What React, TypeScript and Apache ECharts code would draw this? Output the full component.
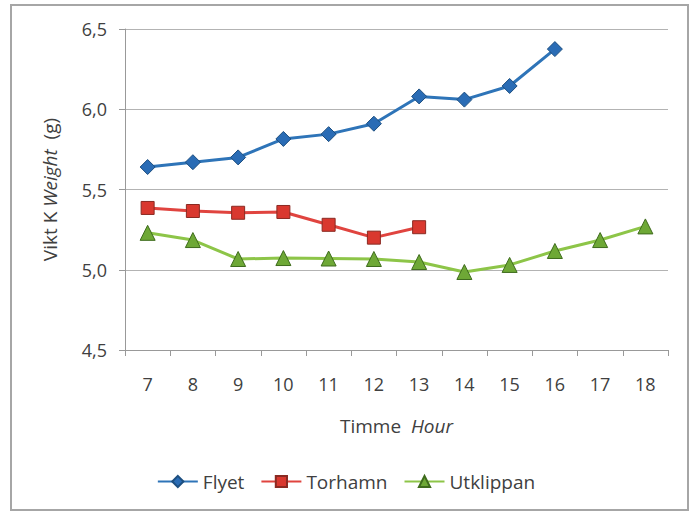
import React, { useEffect, useRef } from "react";
import * as echarts from "echarts";

const hours = ["7", "8", "9", "10", "11", "12", "13", "14", "15", "16", "17", "18"];
const flyet = [5.64, 5.67, 5.70, 5.815, 5.845, 5.91, 6.08, 6.06, 6.145, 6.375, null, null];
const torhamn = [5.385, 5.366, 5.355, 5.36, 5.28, 5.2, 5.265, null, null, null, null, null];
const utklippan = [5.23, 5.185, 5.067, 5.073, 5.07, 5.067, 5.048, 4.986, 5.03, 5.117, 5.185, 5.27];
const yMin = 4.5;
const yMax = 6.5;
const yStep = 0.5;

const FONT = "Open Sans";
const TXT = "#404040";

export default function App() {
  const ref = useRef<HTMLDivElement>(null);
  useEffect(() => {
    if (!ref.current) return;
    const chart = echarts.init(ref.current, null, { renderer: "svg" });
    const mk = (name: string, data: any[], line: string, fill: string, border: string, symbol: string) => ({
      name,
      type: "line",
      data,
      symbol,
      symbolSize: symbol === "rect" ? 13 : 15,
      lineStyle: { color: line, width: 3 },
      itemStyle: { color: fill, borderColor: border, borderWidth: 1 },
      emphasis: { disabled: true },
    });
    chart.setOption({
      animation: false,
      backgroundColor: "#ffffff",
      textStyle: { fontFamily: FONT, color: TXT },
      graphic: [
        {
          type: "rect",
          shape: { x: 11, y: 5, width: 677, height: 505 },
          style: { fill: "none", stroke: "#a6a6a6", lineWidth: 2 },
          silent: true,
        },
      ],
      grid: { left: 125, right: 24, top: 29, bottom: 162 },
      legend: {
        top: 467,
        left: "center",
        itemWidth: 40,
        itemHeight: 14,
        itemGap: 16,
        textStyle: { fontFamily: FONT, fontSize: 19, color: TXT },
        data: ["Flyet", "Torhamn", "Utklippan"],
      },
      xAxis: {
        type: "category",
        data: hours,
        boundaryGap: true,
        name: "Timme  {i|Hour}",
        nameLocation: "middle",
        nameGap: 66,
        nameTextStyle: {
          fontFamily: FONT,
          fontSize: 19,
          color: TXT,
          rich: { i: { fontStyle: "italic", fontFamily: FONT, fontSize: 19, color: TXT } },
        },
        axisLine: { lineStyle: { color: "#999999", width: 1 } },
        axisTick: { show: true, length: 6, alignWithLabel: false, lineStyle: { color: "#999999" } },
        axisLabel: { margin: 25, fontFamily: FONT, fontSize: 18, color: TXT },
        splitLine: { show: false },
      },
      yAxis: {
        type: "value",
        min: yMin,
        max: yMax,
        interval: yStep,
        name: "Vikt K {i|Weight}  (g)",
        nameLocation: "middle",
        nameGap: 66,
        nameTextStyle: {
          fontFamily: FONT,
          fontSize: 19,
          color: TXT,
          rich: { i: { fontStyle: "italic", fontFamily: FONT, fontSize: 19, color: TXT } },
        },
        axisLine: { show: true, lineStyle: { color: "#999999", width: 1 } },
        axisTick: { show: true, length: 6, lineStyle: { color: "#999999" } },
        axisLabel: {
          margin: 18,
          fontFamily: FONT,
          fontSize: 18,
          color: TXT,
          formatter: (v: number) => v.toFixed(1).replace(".", ","),
        },
        splitLine: { show: true, lineStyle: { color: "#b3b3b3", width: 1 } },
      },
      series: [
        mk("Flyet", flyet, "#2e74b8", "#2a6cb5", "#1d4f80", "diamond"),
        mk("Torhamn", torhamn, "#e0443f", "#d9382f", "#8a2a22", "rect"),
        mk("Utklippan", utklippan, "#8dc548", "#6ea836", "#3e6b1c", "triangle"),
      ],
    });
    return () => chart.dispose();
  }, []);
  return (
    <div
      ref={ref}
      style={{ position: "fixed", left: 0, top: 0, width: 692, height: 512, background: "#fff" }}
    />
  );
}
